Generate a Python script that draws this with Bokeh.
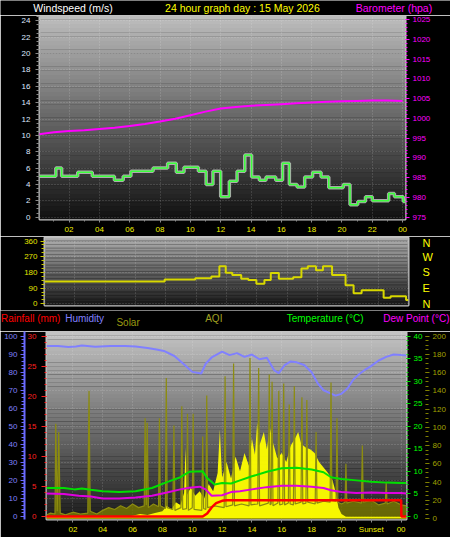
from bokeh.plotting import figure
from bokeh.models import Range1d, LinearAxis, FixedTicker, BoxAnnotation
from bokeh.layouts import column, row
from bokeh.embed import file_html
from bokeh.resources import INLINE
from bokeh.core.properties import value

FONT = "Liberation Sans"

# ---------------- data ----------------
HOUR_TICKS = [2, 4, 6, 8, 10, 12, 14, 16, 18, 20, 22, 24]
HOUR_LABELS = ["02", "04", "06", "08", "10", "12", "14", "16", "18", "20", "22", "00"]
HOUR_LABELS_BOTTOM = ["02", "04", "06", "08", "10", "12", "14", "16", "18", "20", "Sunset", "00"]

# wind speed (m/s), step series
WIND_T = [0.0, 1.13, 1.51, 2.57, 3.53, 4.99, 5.57, 6.08, 7.54, 8.50, 9.07, 9.58, 10.53,
          11.04, 11.49, 12.0, 12.57, 13.08, 13.59, 14.04, 14.55, 14.99, 15.63, 16.08,
          16.53, 17.04, 17.54, 18.06, 18.62, 19.13, 20.08, 20.53, 21.04, 21.55, 22.0,
          23.08, 23.46, 24.04, 24.2]
WIND_V = [5.0, 6.0, 5.0, 5.5, 5.0, 4.5, 5.0, 5.6, 6.0, 6.6, 5.5, 6.1, 5.6,
          4.0, 5.6, 2.5, 4.4, 5.6, 7.6, 4.9, 4.5, 4.9, 4.5, 6.6,
          4.0, 3.7, 4.9, 5.5, 4.9, 3.6, 4.0, 1.5, 1.9, 2.5, 2.0,
          2.9, 2.5, 1.9, 1.9]

# barometer (hPa)
BARO_T = [0, 1, 2, 3, 4, 5, 6, 7, 8, 9, 10, 11, 12, 13, 14, 15, 16, 17, 18, 19, 20, 21, 22, 23, 24]
BARO_V = [996.0, 996.5, 996.8, 997.0, 997.3, 997.6, 998.1, 998.6, 999.2, 999.9, 1000.8,
          1001.7, 1002.5, 1002.9, 1003.2, 1003.4, 1003.6, 1003.8, 1004.0, 1004.2, 1004.3,
          1004.4, 1004.5, 1004.5, 1004.4]

# wind direction (degrees), step series
DIR_T = [0.0, 7.92, 9.94, 11.0, 11.53, 11.95, 12.38, 12.97, 13.44, 13.97, 14.5, 14.92,
         15.45, 16.4, 16.94, 17.36, 17.9, 18.36, 18.96, 19.85, 20.38, 20.91, 22.36, 22.82,
         23.84, 24.0]
DIR_V = [128, 139, 147, 156, 215, 178, 165, 143, 137, 115, 137, 176,
         143, 152, 202, 215, 193, 215, 165, 106, 61, 78, 35, 43,
         22, 22]

# humidity (%)
HUM = [(0.23, 94.5), (1.0, 94.6), (1.7, 94.0), (2.2, 94.3), (2.6, 94.8), (3.5, 94.2),
       (4.5, 94.5), (5.5, 94.6), (6.2, 94.3), (7.0, 93.5), (7.6, 92.6), (8.1, 91.8),
       (8.8, 89.0), (9.4, 84.7), (10.0, 80.2), (10.6, 79.3), (10.9, 84.7), (11.3, 88.2),
       (12.0, 91.4), (12.5, 89.5), (13.0, 90.6), (13.5, 88.5), (14.0, 89.8), (14.5, 87.2),
       (15.0, 88.0), (15.5, 81.0), (15.8, 79.5), (16.2, 84.0), (16.6, 86.0), (17.0, 85.5),
       (17.5, 84.0), (18.0, 80.0), (18.4, 74.0), (18.8, 70.0), (19.2, 68.5), (19.6, 67.0),
       (20.0, 68.0), (20.4, 71.0), (20.8, 76.0), (21.2, 79.0), (21.6, 81.5), (22.0, 83.5),
       (22.5, 86.5), (23.0, 88.5), (23.5, 89.8), (24.0, 89.5), (24.36, 89.3)]

# temperature (C)
TEMP = [(0.23, 6.3), (1.4, 6.3), (2.1, 6.0), (2.6, 6.2), (3.2, 5.9), (4.0, 5.6), (5.1, 5.4),
        (6.2, 5.6), (7.3, 6.3), (8.3, 7.6), (9.2, 8.7), (9.8, 9.9), (10.7, 10.0), (11.0, 8.5),
        (11.5, 7.1), (12.0, 7.4), (12.6, 7.3), (13.2, 8.0), (14.0, 8.9), (15.0, 9.9),
        (16.0, 10.7), (17.0, 10.8), (18.0, 10.4), (18.8, 9.8), (19.3, 8.7), (20.0, 8.3),
        (21.0, 8.0), (22.0, 7.7), (23.0, 7.5), (24.0, 7.4), (24.36, 7.4)]

# dew point (C)
DEW = [(0.23, 5.1), (1.4, 5.0), (2.4, 4.6), (3.2, 4.4), (4.0, 4.0), (5.1, 4.0), (6.2, 4.2),
       (7.3, 4.6), (8.3, 5.3), (9.2, 6.0), (9.8, 6.35), (10.5, 6.6), (10.9, 6.0), (11.3, 4.6),
       (12.0, 4.7), (12.6, 5.4), (13.2, 5.6), (14.0, 6.0), (15.0, 6.5), (16.0, 6.8),
       (17.0, 6.8), (18.0, 6.6), (18.8, 6.3), (19.3, 5.8), (20.0, 5.4), (21.0, 5.2),
       (22.0, 5.3), (23.0, 5.2), (24.0, 5.2), (24.36, 5.1)]

# rainfall (mm)
RAIN_T = [0.23, 10.7, 11.0, 11.3, 11.6, 12.0, 12.3, 24.0, 24.02, 24.36]
RAIN_V = [0.0, 0.0, 0.5, 1.5, 2.2, 2.6, 2.7, 2.7, 0.0, 0.0]

# solar (plotted on 0-200 scale)
SOLAR = [(0.23, 2), (5.5, 2), (6.0, 3), (6.5, 5), (7.0, 4), (7.5, 6), (8.0, 8), (8.3, 14),
         (8.6, 10), (8.9, 18), (9.2, 15), (9.45, 28), (9.55, 78), (9.65, 26), (9.9, 34),
         (10.2, 25), (10.5, 30), (10.8, 22), (11.1, 38), (11.4, 30), (11.7, 50), (11.85, 98),
         (12.0, 45), (12.3, 62), (12.6, 44), (12.9, 68), (13.2, 52), (13.5, 72), (13.8, 58),
         (14.0, 88), (14.2, 70), (14.35, 105), (14.5, 80), (14.8, 95), (15.0, 76), (15.2, 100),
         (15.4, 84), (15.7, 66), (16.0, 72), (16.3, 62), (16.6, 80), (16.9, 88), (17.1, 95),
         (17.3, 82), (17.6, 78), (17.9, 76), (18.2, 72), (18.5, 62), (18.8, 56), (19.1, 50),
         (19.4, 42), (19.6, 30), (19.8, 12), (20.0, 5), (20.3, 2), (24.36, 2)]

# AQI
AQI = [(0.23, 4), (0.5, 6), (0.8, 5), (0.85, 104), (0.95, 8), (1.05, 95), (1.15, 6), (1.5, 4),
       (2.0, 7), (2.5, 5), (3.0, 6), (3.08, 140), (3.16, 8), (3.6, 5), (4.0, 9), (4.4, 12),
       (4.8, 10), (5.2, 14), (5.6, 11), (6.0, 16), (6.4, 12), (6.78, 14), (6.84, 110),
       (6.92, 15), (6.98, 105), (7.06, 12), (7.4, 16), (7.74, 13), (7.8, 110), (7.86, 14),
       (8.2, 11), (8.26, 154), (8.32, 12), (8.7, 10), (8.77, 102), (8.84, 9), (9.24, 12),
       (9.3, 123), (9.36, 10), (9.62, 11), (9.68, 115), (9.74, 9), (10.0, 12), (10.06, 115),
       (10.12, 10), (10.64, 9), (10.7, 90), (10.76, 11), (10.91, 10), (10.97, 135), (11.03, 12),
       (11.5, 14), (12.14, 12), (12.2, 156), (12.26, 13), (12.71, 15), (12.77, 170), (12.83, 14),
       (13.3, 16), (13.81, 14), (13.87, 176), (13.93, 15), (14.39, 16), (14.45, 165), (14.51, 14),
       (15.1, 17), (15.16, 158), (15.22, 15), (15.29, 16), (15.35, 150), (15.41, 14), (15.74, 17),
       (15.8, 140), (15.86, 15), (16.07, 16), (16.13, 148), (16.19, 15), (16.44, 17), (16.5, 125),
       (16.56, 16), (16.78, 15), (16.84, 145), (16.9, 16), (17.29, 18), (17.35, 133), (17.41, 16),
       (17.62, 17), (17.68, 130), (17.74, 18), (18.24, 16), (18.3, 95), (18.36, 17), (18.8, 19),
       (19.24, 18), (19.3, 149), (19.36, 20), (19.64, 19), (19.7, 110), (19.76, 18), (20.0, 16),
       (20.24, 18), (20.3, 60), (20.36, 17), (20.8, 19), (21.34, 17), (21.4, 80), (21.46, 18),
       (22.0, 20), (22.5, 15), (22.94, 17), (23.0, 40), (23.06, 16), (23.5, 19), (24.0, 15),
       (24.36, 14)]


def unzip(pairs):
    return [a for a, _ in pairs], [b for _, b in pairs]


# ---------------- helpers ----------------
def add_gradient(p, y0, y1, top, bottom, n=48):
    step = (y1 - y0) / n
    for i in range(n):
        frac = (i + 0.5) / n
        g = int(round(bottom + (top - bottom) * frac))
        p.add_layout(BoxAnnotation(bottom=y0 + i * step, top=y0 + (i + 1) * step + step * 0.05,
                                   fill_color="#%02x%02x%02x" % (g, g, g), fill_alpha=1.0,
                                   line_color=None, level="image"))


def style_axis(ax, label_color, tick_color, size="8px", standoff=3, major_out=4, minor_out=2,
               line_color=None, line_width=1):
    ax.major_label_text_color = label_color
    ax.major_label_text_font = FONT
    ax.major_label_text_font_size = size
    ax.major_label_standoff = standoff
    ax.axis_line_color = line_color
    ax.axis_line_width = line_width
    ax.major_tick_line_color = tick_color
    ax.minor_tick_line_color = tick_color
    ax.major_tick_in = 0
    ax.minor_tick_in = 0
    ax.major_tick_out = major_out
    ax.minor_tick_out = minor_out


def style_grid(p):
    for g in (p.xgrid, p.ygrid):
        g.grid_line_color = "#ffffff"
        g.grid_line_alpha = 0.25
        g.grid_line_dash = "1 2"


def base_fig(w, h, xr, yr, **kw):
    return figure(width=w, height=h, x_range=xr, y_range=yr, output_backend="svg",
                  toolbar_location=None, background_fill_color="black",
                  border_fill_color="black", outline_line_color="#c4c4c4",
                  outline_line_width=2, **kw)


def header_fig(h):
    f = figure(width=450, height=h, x_range=Range1d(0, 450), y_range=Range1d(0, h),
               output_backend="svg", toolbar_location=None, min_border=0, title=None,
               background_fill_color="black", border_fill_color="black",
               outline_line_color=None, x_axis_location=None, y_axis_location=None)
    f.grid.visible = False
    return f


def title_text(f, x, y, txt, color, align, size):
    f.text(x=[x], y=[y], text=[txt], text_color=color, text_font=value(FONT),
           text_font_size=size, text_align=align, text_baseline="middle")


# ---------------- header 1 ----------------
h1 = header_fig(15)
title_text(h1, 32.8, 7.5, "Windspeed (m/s)", "#ffffff", "left", "10.5px")
title_text(h1, 241.9, 7.5, "24 hour graph day : 15 May 2026", "#ffff00", "center", "10.5px")
title_text(h1, 431.7, 7.5, "Barometer (hpa)", "#ff00ff", "right", "10.5px")

# ---------------- panel 1: wind speed + barometer ----------------
p1 = base_fig(450, 221, Range1d(0.05, 24.19), Range1d(-0.29, 24.66),
              min_border_left=39, min_border_right=45, min_border_top=0, min_border_bottom=17)
p1.extra_y_ranges = {"baro": Range1d(974.44, 1026.0)}
add_gradient(p1, -0.29, 24.66, 0xbe, 0x10)

p1.xaxis.ticker = FixedTicker(ticks=HOUR_TICKS, minor_ticks=list(range(0, 25)))
p1.xaxis.major_label_overrides = dict(zip(HOUR_TICKS, HOUR_LABELS))
style_axis(p1.xaxis[0], "#f0f000", "#8a8a8a", standoff=4, major_out=3, minor_out=2)
p1.yaxis.ticker = FixedTicker(ticks=list(range(0, 25, 2)), minor_ticks=[i / 2 for i in range(0, 50)])
style_axis(p1.yaxis[0], "#dfe9ff", "#8a8a8a", standoff=5, major_out=4, minor_out=3)
ax_b = LinearAxis(y_range_name="baro",
                  ticker=FixedTicker(ticks=list(range(975, 1026, 5)), minor_ticks=list(range(975, 1026))))
style_axis(ax_b, "#ff00ff", "#ff00ff", standoff=3, major_out=4, minor_out=2)
p1.add_layout(ax_b, "right")
p1.xgrid.ticker = FixedTicker(ticks=HOUR_TICKS)
p1.ygrid.ticker = FixedTicker(ticks=list(range(0, 25, 2)))
style_grid(p1)

p1.step(WIND_T, WIND_V, mode="after", line_color="#d6d6d6", line_width=3.5, line_alpha=0.75)
p1.step(WIND_T, WIND_V, mode="after", line_color="#3cff3c", line_width=1.5)
p1.line(BARO_T, BARO_V, y_range_name="baro", line_color="#ff00ff", line_width=2)

# ---------------- panel 2: wind direction ----------------
p2 = base_fig(450, 74, Range1d(0, 24.0), Range1d(-9.7, 380.1), x_axis_location=None,
              min_border_left=44, min_border_right=42, min_border_top=1, min_border_bottom=5)
add_gradient(p2, -9.7, 380.1, 0xb0, 0x18)
p2.yaxis.ticker = FixedTicker(ticks=[0, 90, 180, 270, 360], minor_ticks=[i * 22.5 for i in range(17)])
style_axis(p2.yaxis[0], "#e4e400", "#c8c800", standoff=3, major_out=4, minor_out=3)
ax_c = LinearAxis(ticker=FixedTicker(ticks=[0, 90, 180, 270, 360]),
                  major_label_overrides={0: "N", 90: "E", 180: "S", 270: "W", 360: "N"})
style_axis(ax_c, "#ffff00", None, size="11px", standoff=14, major_out=0, minor_out=0)
p2.add_layout(ax_c, "right")
p2.xgrid.ticker = FixedTicker(ticks=HOUR_TICKS)
p2.ygrid.ticker = FixedTicker(ticks=[0, 90, 180, 270, 360])
style_grid(p2)
p2.step(DIR_T, DIR_V, mode="after", line_color="#d8d800", line_width=2)

# ---------------- header 3 ----------------
h3 = header_fig(21)
title_text(h3, 0.5, 13.5, "Rainfall (mm)", "#ff0000", "left", "10px")
title_text(h3, 64.7, 13.5, "Humidity", "#8080ff", "left", "10px")
title_text(h3, 115.9, 8.7, "Solar", "#9a9a10", "left", "10px")
title_text(h3, 204.7, 13.5, "AQI", "#a0a020", "left", "10px")
title_text(h3, 363, 13.5, "Temperature (\u00b0C)", "#00ff00", "right", "10px")
title_text(h3, 449, 13.5, "Dew Point (\u00b0C)", "#ff00ff", "right", "10px")

# ---------------- panel 3: rain / humidity / temp / solar / AQI ----------------
p3 = base_fig(450, 206, Range1d(0.23, 24.36), Range1d(-0.513, 30.78),
              min_border_left=46, min_border_right=44, min_border_top=0, min_border_bottom=18)
p3.extra_y_ranges = {"hum": Range1d(-1.71, 102.6), "temp": Range1d(-0.684, 41.04),
                     "aqi": Range1d(-1, 205)}
add_gradient(p3, -0.513, 30.78, 0xc4, 0x1c)

p3.xaxis.ticker = FixedTicker(ticks=HOUR_TICKS, minor_ticks=list(range(1, 25)))
p3.xaxis.major_label_overrides = dict(zip(HOUR_TICKS, HOUR_LABELS_BOTTOM))
style_axis(p3.xaxis[0], "#f0f000", "#8a8a8a", standoff=2, major_out=3, minor_out=2)

p3.yaxis.ticker = FixedTicker(ticks=list(range(0, 31, 5)), minor_ticks=list(range(0, 31)))
style_axis(p3.yaxis[0], "#ff2020", "#ff2020", standoff=5, major_out=5, minor_out=2)
ax_h = LinearAxis(y_range_name="hum",
                  ticker=FixedTicker(ticks=list(range(0, 101, 10)), minor_ticks=list(range(0, 101, 2))))
style_axis(ax_h, "#8080ff", "#6a6aff", standoff=3, major_out=4, minor_out=3,
           line_color="#6a6aff", line_width=2)
p3.add_layout(ax_h, "left")
ax_t = LinearAxis(y_range_name="temp",
                  ticker=FixedTicker(ticks=list(range(0, 41, 5)), minor_ticks=list(range(0, 41))))
style_axis(ax_t, "#00ff00", "#00e000", standoff=3, major_out=4, minor_out=2)
p3.add_layout(ax_t, "right")
ax_a = LinearAxis(y_range_name="aqi",
                  ticker=FixedTicker(ticks=list(range(0, 201, 20)), minor_ticks=list(range(0, 201, 5))))
style_axis(ax_a, "#a0a000", "#808000", standoff=3, major_out=4, minor_out=3)
p3.add_layout(ax_a, "right")
p3.xgrid.ticker = FixedTicker(ticks=HOUR_TICKS)
p3.ygrid.ticker = FixedTicker(ticks=list(range(0, 31, 3)))
style_grid(p3)

hum_t, hum_v = unzip(HUM)
sol_t, sol_v = unzip(SOLAR)
aqi_t, aqi_v = unzip(AQI)
tmp_t, tmp_v = unzip(TEMP)
dew_t, dew_v = unzip(DEW)

p3.line(hum_t, hum_v, y_range_name="hum", line_color="#8080ff", line_width=2)
p3.varea(x=aqi_t, y1=0, y2=aqi_v, y_range_name="aqi", fill_color="#7a7a00", fill_alpha=0.8)
p3.varea(x=sol_t, y1=0, y2=sol_v, y_range_name="aqi", fill_color="#ffff00", fill_alpha=0.95)
p3.line(aqi_t, aqi_v, y_range_name="aqi", line_color="#8c8c10", line_width=1.2)
p3.line(tmp_t, tmp_v, y_range_name="temp", line_color="#00e000", line_width=2)
p3.line(dew_t, dew_v, y_range_name="temp", line_color="#e000e0", line_width=2)
p3.line(RAIN_T, RAIN_V, line_color="#ff0000", line_width=2.5)

# each figure in its own row so that the column does not align their frames
layout = column(row(h1), row(p1), row(p2), row(h3), row(p3))
open("out.html", "w").write(file_html(layout, INLINE))
